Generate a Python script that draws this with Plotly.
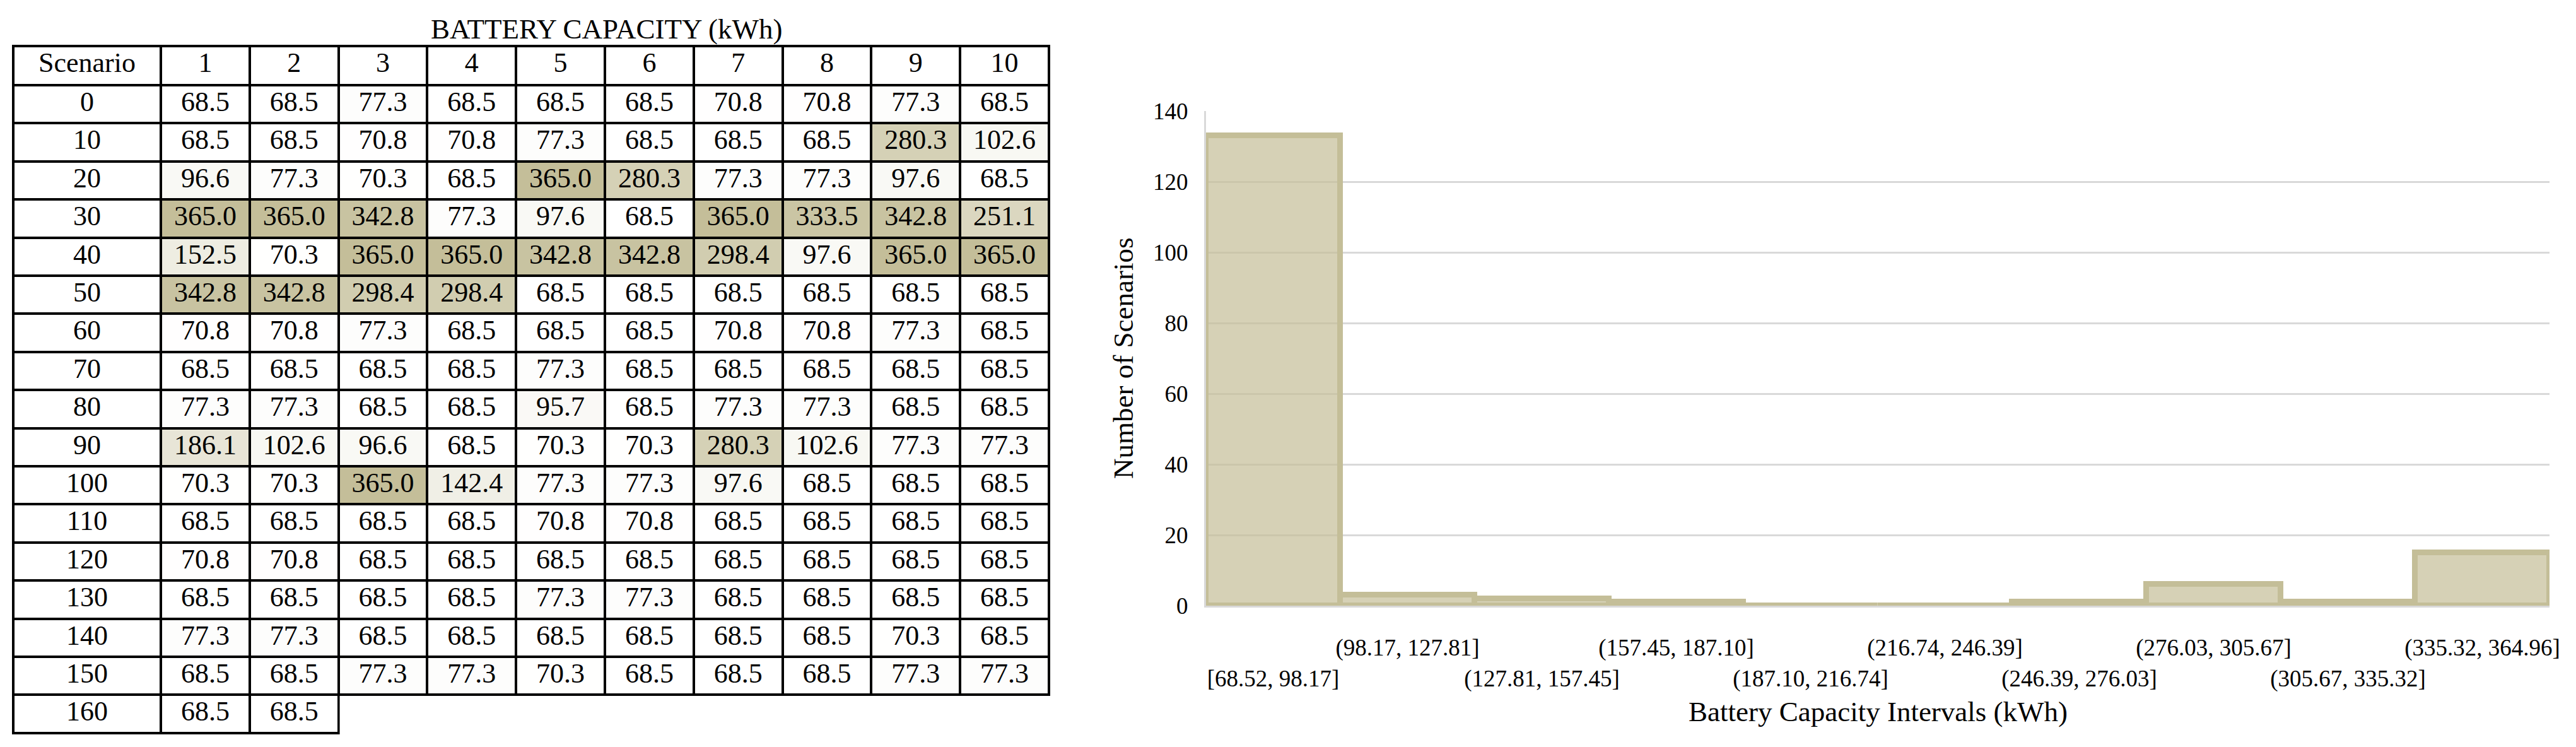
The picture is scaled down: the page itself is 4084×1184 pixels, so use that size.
import plotly.graph_objects as go
from plotly.colors import sample_colorscale

# ---------------- data ----------------
column_labels = ["1", "2", "3", "4", "5", "6", "7", "8", "9", "10"]
scenario_labels = ["0", "10", "20", "30", "40", "50", "60", "70", "80", "90",
                   "100", "110", "120", "130", "140", "150", "160"]
capacity_rows = [
    [68.5, 68.5, 77.3, 68.5, 68.5, 68.5, 70.8, 70.8, 77.3, 68.5],
    [68.5, 68.5, 70.8, 70.8, 77.3, 68.5, 68.5, 68.5, 280.3, 102.6],
    [96.6, 77.3, 70.3, 68.5, 365.0, 280.3, 77.3, 77.3, 97.6, 68.5],
    [365.0, 365.0, 342.8, 77.3, 97.6, 68.5, 365.0, 333.5, 342.8, 251.1],
    [152.5, 70.3, 365.0, 365.0, 342.8, 342.8, 298.4, 97.6, 365.0, 365.0],
    [342.8, 342.8, 298.4, 298.4, 68.5, 68.5, 68.5, 68.5, 68.5, 68.5],
    [70.8, 70.8, 77.3, 68.5, 68.5, 68.5, 70.8, 70.8, 77.3, 68.5],
    [68.5, 68.5, 68.5, 68.5, 77.3, 68.5, 68.5, 68.5, 68.5, 68.5],
    [77.3, 77.3, 68.5, 68.5, 95.7, 68.5, 77.3, 77.3, 68.5, 68.5],
    [186.1, 102.6, 96.6, 68.5, 70.3, 70.3, 280.3, 102.6, 77.3, 77.3],
    [70.3, 70.3, 365.0, 142.4, 77.3, 77.3, 97.6, 68.5, 68.5, 68.5],
    [68.5, 68.5, 68.5, 68.5, 70.8, 70.8, 68.5, 68.5, 68.5, 68.5],
    [70.8, 70.8, 68.5, 68.5, 68.5, 68.5, 68.5, 68.5, 68.5, 68.5],
    [68.5, 68.5, 68.5, 68.5, 77.3, 77.3, 68.5, 68.5, 68.5, 68.5],
    [77.3, 77.3, 68.5, 68.5, 68.5, 68.5, 68.5, 68.5, 70.3, 68.5],
    [68.5, 68.5, 77.3, 77.3, 70.3, 68.5, 68.5, 68.5, 77.3, 77.3],
    [68.5, 68.5],
]
bin_labels = ["[68.52, 98.17]", "(98.17, 127.81]", "(127.81, 157.45]",
              "(157.45, 187.10]", "(187.10, 216.74]", "(216.74, 246.39]",
              "(246.39, 276.03]", "(276.03, 305.67]", "(305.67, 335.32]",
              "(335.32, 364.96]"]
bin_counts = [133, 3, 2, 1, 0, 0, 1, 6, 1, 15]

# ---------------- style ----------------
W, H = 4068, 1168
FONT = "Liberation Serif, Times New Roman, serif"
OLIVE = "rgb(196,190,153)"
cell_scale = [[0, "rgb(255,255,255)"], [1, OLIVE]]

all_vals = [v for r in capacity_rows for v in r]
vmin, vmax = min(all_vals), max(all_vals)
ncols = len(column_labels)

# build table columns
col_values = [scenario_labels]
col_fill = [["white"] * len(scenario_labels)]
col_lc = [["black"] * len(scenario_labels)]
for c in range(ncols):
    vals, fills, lcs = [], [], []
    for r in capacity_rows:
        if c < len(r):
            v = r[c]
            vals.append(f"{v:.1f}")
            fills.append(sample_colorscale(cell_scale, [(v - vmin) / (vmax - vmin)])[0])
            lcs.append("black")
        else:
            vals.append("")
            fills.append("rgba(0,0,0,0)")
            lcs.append("rgba(0,0,0,0)")
    col_values.append(vals)
    col_fill.append(fills)
    col_lc.append(lcs)

fig = go.Figure()

fig.add_trace(go.Table(
    domain=dict(x=[13 / W, 1655 / W], y=[0, 1 - 65 / H]),
    columnwidth=[234] + [140.8] * ncols,
    header=dict(values=["Scenario"] + column_labels,
                fill=dict(color="white"),
                line=dict(color="black", width=4),
                font=dict(family=FONT, size=44, color="black"),
                align="center", height=62),
    cells=dict(values=col_values,
               fill=dict(color=col_fill),
               line=dict(color=col_lc, width=4),
               font=dict(family=FONT, size=44, color="black"),
               align="center", height=60.4),
))

tick_text = [("<br>" if i % 2 == 0 else "") + lab for i, lab in enumerate(bin_labels)]

fig.add_trace(go.Bar(
    x=bin_labels, y=bin_counts, width=1,
    marker=dict(color="rgba(196,189,151,0.7)",
                line=dict(color="rgb(196,190,152)", width=9)),
    xaxis="x", yaxis="y", showlegend=False,
))

fig.update_layout(
    width=W, height=H,
    margin=dict(l=0, r=0, t=0, b=0, autoexpand=False),
    paper_bgcolor="white", plot_bgcolor="white",
    font=dict(family=FONT, color="black"),
    bargap=0,
    xaxis=dict(domain=[1904 / W, 4034 / W], anchor="y", automargin=False,
               type="category", range=[-0.5, len(bin_labels) - 0.5],
               tickvals=bin_labels, ticktext=tick_text,
               tickfont=dict(size=37, family=FONT, color="black"),
               ticks="", ticklabelstandoff=32, tickangle=0,
               showgrid=False, zeroline=False,
               showline=True, linecolor="#d9d9d9", linewidth=3),
    yaxis=dict(domain=[1 - 952 / H, 1 - 168 / H], anchor="x", automargin=False,
               range=[0, 140], dtick=20,
               tickfont=dict(size=37, family=FONT, color="black"),
               ticks="", ticklabelstandoff=18,
               showgrid=True, gridcolor="#d9d9d9", gridwidth=3,
               zeroline=False,
               showline=True, linecolor="#d9d9d9", linewidth=3),
    annotations=[
        dict(text="BATTERY CAPACITY (kWh)", x=953.5 / W, y=1 - 38 / H,
             xref="paper", yref="paper", xanchor="center", yanchor="middle",
             showarrow=False, font=dict(size=45, family=FONT, color="black")),
        dict(text="Number of Scenarios", x=1773 / W, y=1 - 560 / H,
             xref="paper", yref="paper", xanchor="center", yanchor="middle",
             textangle=-90, showarrow=False,
             font=dict(size=45, family=FONT, color="black")),
        dict(text="Battery Capacity Intervals (kWh)", x=(1904 + 4034) / 2 / W,
             y=1 - 1120 / H, xref="paper", yref="paper",
             xanchor="center", yanchor="middle", showarrow=False,
             font=dict(size=45, family=FONT, color="black")),
    ],
)

fig.write_html("out.html")
